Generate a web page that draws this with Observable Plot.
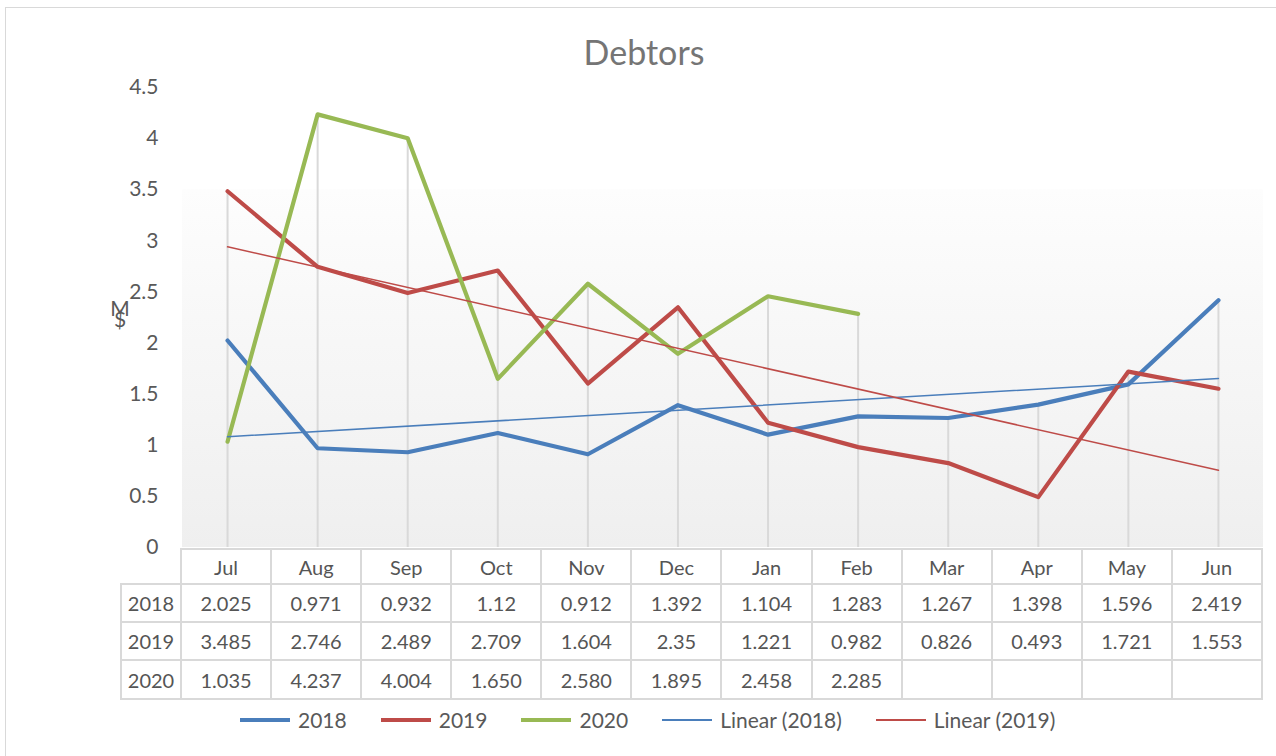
<!DOCTYPE html>
<html>
<head>
<meta charset="utf-8">
<script src="https://cdn.jsdelivr.net/npm/d3@7"></script>
<script src="https://cdn.jsdelivr.net/npm/@observablehq/plot@0.6"></script>
<style>
  html, body { margin: 0; padding: 0; background: #fff; }
  body { width: 1276px; height: 756px; overflow: hidden; font-family: Lato, "Open Sans", sans-serif; }
  #wrap { position: relative; width: 1276px; height: 756px; }
  #frame { position: absolute; left: 5px; top: 7px; width: 1290px; height: 770px; border: 1.5px solid #d9d9d9; box-sizing: border-box; }
  #title { position: absolute; left: 0; top: 0; width: 1288px; height: 60px; text-align: center; font-size: 34px; color: #757575; line-height: 104px; }
  #chart { position: absolute; left: 0; top: 60px; }
  #ylabel { position: absolute; left: 108px; top: 302px; width: 24px; display: flex; flex-direction: column-reverse; align-items: center; font-size: 21px; color: #595959; line-height: 11px; }
  #table { position: absolute; top: 548px; display: grid; font-size: 20px; color: #555; }
  #table div { box-sizing: border-box; display: flex; align-items: center; justify-content: center; border-right: 2px solid #d9d9d9; border-bottom: 2px solid #d9d9d9; }
  #legend { position: absolute; left: 240px; top: 707px; display: flex; align-items: center; gap: 34px; font-size: 21px; color: #595959; }
  .li { display: flex; align-items: center; gap: 8px; }
  .sw { width: 50px; }
</style>
</head>
<body>
<div id="wrap">
  <div id="frame"></div>
  <div id="title">Debtors</div>
  <div id="chart"></div>
  <div id="ylabel"><span>$</span><span>M</span></div>
  <div id="table"></div>
  <div id="legend"></div>
</div>
<script>
const months = ["Jul","Aug","Sep","Oct","Nov","Dec","Jan","Feb","Mar","Apr","May","Jun"];
const v2018 = [2.025, 0.971, 0.932, 1.12, 0.912, 1.392, 1.104, 1.283, 1.267, 1.398, 1.596, 2.419];
const v2019 = [3.485, 2.746, 2.489, 2.709, 1.604, 2.35, 1.221, 0.982, 0.826, 0.493, 1.721, 1.553];
const v2020 = [1.035, 4.237, 4.004, 1.650, 2.580, 1.895, 2.458, 2.285];
const label2018 = ["2.025","0.971","0.932","1.12","0.912","1.392","1.104","1.283","1.267","1.398","1.596","2.419"];
const label2019 = ["3.485","2.746","2.489","2.709","1.604","2.35","1.221","0.982","0.826","0.493","1.721","1.553"];
const label2020 = ["1.035","4.237","4.004","1.650","2.580","1.895","2.458","2.285"];
const yTicks = [0, 0.5, 1, 1.5, 2, 2.5, 3, 3.5, 4, 4.5];
const seriesNames = ["2018", "2019", "2020"];
const colors = {"2018": "#4a7ebb", "2019": "#be4b48", "2020": "#98b954"};

const seriesVals = {"2018": v2018, "2019": v2019, "2020": v2020};
const long = seriesNames.flatMap(s => seriesVals[s].map((v, i) => ({series: s, x: i + 1, y: v})));
const drops = months.map((m, i) => ({x: i + 1, top: d3.max(seriesNames, s => seriesVals[s][i])}));

const plot = Plot.plot({
  width: 1276,
  height: 507,
  marginTop: 27,
  marginBottom: 20,
  marginLeft: 182,
  marginRight: 13,
  style: {fontFamily: "Lato, 'Open Sans', sans-serif", fontSize: "21px", color: "#595959", background: "transparent"},
  x: {domain: [0.5, 12.5], axis: null},
  y: {domain: [0, 4.5]},
  marks: [
    Plot.rect([0], {x1: 0.5, x2: 12.5, y1: 0, y2: 3.5, fill: "url(#bgGrad)"}),
    Plot.ruleX(drops, {x: "x", y1: 0, y2: "top", stroke: "#d9d9d9", strokeWidth: 2}),
    Plot.axisY({ticks: yTicks, tickFormat: d => String(d), tickSize: 0, tickPadding: 24, label: null, fontSize: 21}),
    Plot.line(long, {x: "x", y: "y", z: "series", stroke: d => colors[d.series], strokeWidth: 4.2, strokeLinejoin: "round"}),
    Plot.linearRegressionY(long.filter(d => d.series === "2018"), {x: "x", y: "y", stroke: colors["2018"], strokeWidth: 1.5, ci: 0}),
    Plot.linearRegressionY(long.filter(d => d.series === "2019"), {x: "x", y: "y", stroke: colors["2019"], strokeWidth: 1.5, ci: 0})
  ]
});

const ns = "http://www.w3.org/2000/svg";
const defs = document.createElementNS(ns, "defs");
defs.innerHTML = '<linearGradient id="bgGrad" x1="0" y1="0" x2="0" y2="1"><stop offset="0" stop-color="#fdfdfd"/><stop offset="1" stop-color="#efefef"/></linearGradient>';
plot.insertBefore(defs, plot.firstChild);
document.getElementById("chart").appendChild(plot);

// data table aligned with the x scale
const xs = plot.scale("x");
const step = xs.apply(2) - xs.apply(1);
const left0 = xs.apply(1) - step / 2;
const labelW = 62;
const table = document.getElementById("table");
table.style.left = (left0 - labelW) + "px";
table.style.gridTemplateColumns = `${labelW}px repeat(${months.length}, ${step}px)`;
table.style.gridTemplateRows = "37px 38px 38px 39px";
function cell(text, styles) {
  const d = document.createElement("div");
  d.textContent = text;
  Object.assign(d.style, styles || {});
  table.appendChild(d);
}
cell("", {borderBottom: "2px solid #d9d9d9"});
months.forEach(m => cell(m, {borderTop: "2px solid #d9d9d9"}));
const rows = [["2018", label2018], ["2019", label2019], ["2020", label2020]];
rows.forEach(([name, vals]) => {
  cell(name, {borderLeft: "2px solid #d9d9d9"});
  months.forEach((m, i) => cell(vals[i] !== undefined ? vals[i] : ""));
});

// legend
const legendItems = [
  {label: "2018", color: colors["2018"], w: 4},
  {label: "2019", color: colors["2019"], w: 4},
  {label: "2020", color: colors["2020"], w: 4},
  {label: "Linear (2018)", color: colors["2018"], w: 2},
  {label: "Linear (2019)", color: colors["2019"], w: 2}
];
const legend = document.getElementById("legend");
legendItems.forEach(it => {
  const li = document.createElement("div");
  li.className = "li";
  const sw = document.createElement("div");
  sw.className = "sw";
  sw.style.height = it.w + "px";
  sw.style.background = it.color;
  const t = document.createElement("span");
  t.textContent = it.label;
  li.appendChild(sw);
  li.appendChild(t);
  legend.appendChild(li);
});
</script>
</body>
</html>
